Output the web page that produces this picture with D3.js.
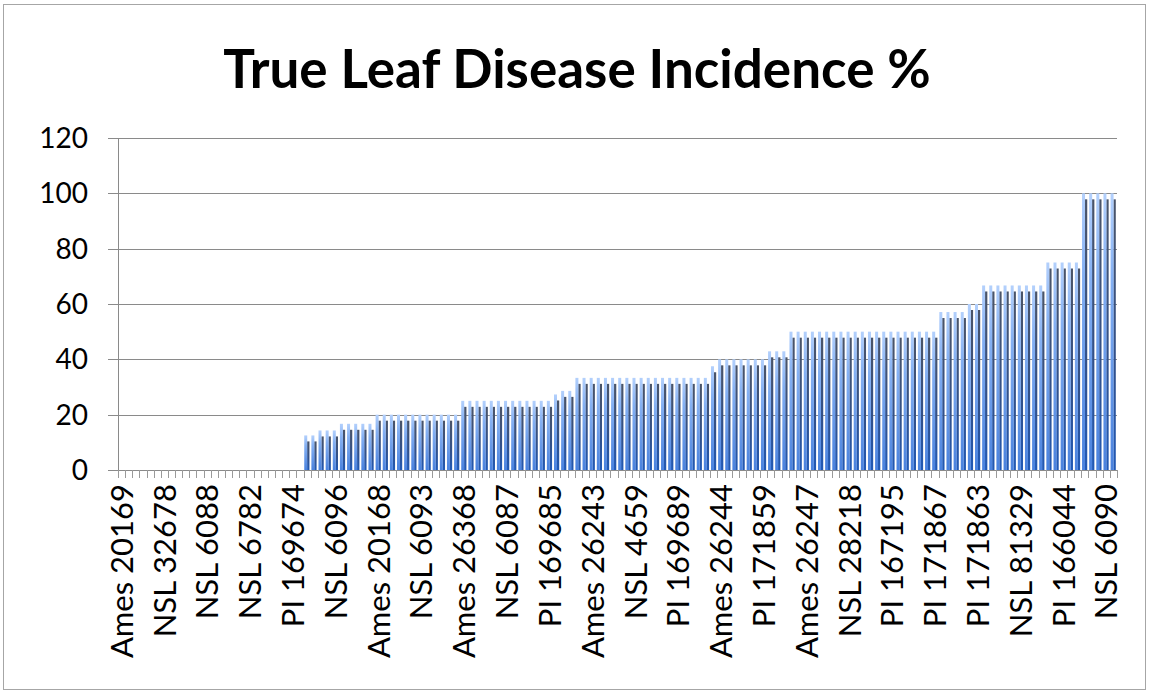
<!DOCTYPE html>
<html><head><meta charset="utf-8">
<script src="https://cdn.jsdelivr.net/npm/d3@7"></script>
<style>body{margin:0;background:#fff}svg{display:block}</style>
</head><body>
<svg id="c" width="1149" height="694"></svg>
<script>
const title = "True Leaf Disease Incidence %";
// visible category labels (every 6th accession)
const tickLabels = ["Ames 20169","NSL 32678","NSL 6088","NSL 6782","PI 169674","NSL 6096","Ames 20168","NSL 6093","Ames 26368","NSL 6087","PI 169685","Ames 26243","NSL 4659","PI 169689","Ames 26244","PI 171859","Ames 26247","NSL 28218","PI 167195","PI 171867","PI 171863","NSL 81329","PI 166044","NSL 6090"];
const labelEvery = 6;
// disease incidence % for each of the 140 accessions (sorted)
const values = [
 0,0,0,0,0,0,0,0,0,0,0,0,0,0,0,0,0,0,0,0,0,0,0,0,0,0,
 12.5,12.5,
 14.3,14.3,14.3,
 16.7,16.7,16.7,16.7,16.7,
 20,20,20,20,20,20,20,20,20,20,20,20,
 25,25,25,25,25,25,25,25,25,25,25,25,25,
 27.3,28.6,28.6,
 33.3,33.3,33.3,33.3,33.3,33.3,33.3,33.3,33.3,33.3,33.3,33.3,33.3,33.3,33.3,33.3,33.3,33.3,33.3,
 37.5,
 40,40,40,40,40,40,40,
 42.9,42.9,42.9,
 50,50,50,50,50,50,50,50,50,50,50,50,50,50,50,50,50,50,50,50,50,
 57.1,57.1,57.1,57.1,
 60,60,
 66.7,66.7,66.7,66.7,66.7,66.7,66.7,66.7,66.7,
 75,75,75,75,75,
 100,100,100,100,100
];
const yTicks = [0,20,40,60,80,100,120];

const svg = d3.select("#c");
const L = 118, R = 1117, T = 138, B = 470;
const font = "Lato, 'Open Sans', sans-serif";

svg.append("rect").attr("x",3.5).attr("y",4.5).attr("width",1142).attr("height",685)
  .attr("fill","#fff").attr("stroke","#a6a6a6").attr("stroke-width",1);

const defs = svg.append("defs");
const g1 = defs.append("linearGradient").attr("id","lite").attr("x1",0).attr("y1",0).attr("x2",0).attr("y2",1);
g1.append("stop").attr("offset","0%").attr("stop-color","#b3d0fc");
g1.append("stop").attr("offset","30%").attr("stop-color","#84b0f3");
g1.append("stop").attr("offset","100%").attr("stop-color","#4a82de");
const g2 = defs.append("linearGradient").attr("id","dark").attr("x1",0).attr("y1",0).attr("x2",0).attr("y2",1);
g2.append("stop").attr("offset","0%").attr("stop-color","#4a5468");
g2.append("stop").attr("offset","60%").attr("stop-color","#31508a");
g2.append("stop").attr("offset","100%").attr("stop-color","#2159b5");

const x = d3.scaleBand().domain(d3.range(values.length)).range([L,R]).paddingInner(0).paddingOuter(0);
const y = d3.scaleLinear().domain([0,120]).range([B,T]);

// gridlines
svg.append("g").selectAll("line").data(yTicks.filter(d=>d>0)).join("line")
  .attr("x1",L-10).attr("x2",R).attr("y1",d=>Math.round(y(d))+0.5).attr("y2",d=>Math.round(y(d))+0.5)
  .attr("stroke","#8a8a8a").attr("stroke-width",1);

// bars: shadow (dark) then bar (light)
const bw = x.bandwidth();
const bars = svg.append("g");
bars.selectAll("rect.sh").data(values.map((v,i)=>({v,i})).filter(d=>d.v>0)).join("rect")
  .attr("class","sh")
  .attr("x",d=>x(d.i)+bw*0.5).attr("width",bw*0.33)
  .attr("y",d=>y(d.v)+6).attr("height",d=>B-y(d.v)-6)
  .attr("fill","url(#dark)");
bars.selectAll("rect.bar").data(values.map((v,i)=>({v,i})).filter(d=>d.v>0)).join("rect")
  .attr("class","bar")
  .attr("x",d=>x(d.i)+bw*0.1).attr("width",bw*0.42)
  .attr("y",d=>y(d.v)).attr("height",d=>B-y(d.v))
  .attr("fill","url(#lite)");

// y axis
svg.append("line").attr("x1",L+0.5).attr("x2",L+0.5).attr("y1",T).attr("y2",B)
  .attr("stroke","#8a8a8a");
svg.append("line").attr("x1",L-10).attr("x2",L).attr("y1",B+0.5).attr("y2",B+0.5).attr("stroke","#8a8a8a");
svg.append("g").selectAll("text").data(yTicks).join("text")
  .attr("x",88).attr("y",d=>y(d)).attr("dy","0.36em").attr("text-anchor","end")
  .attr("font-family",font).attr("font-size",28).attr("fill","#000").text(d=>d);

// x axis
svg.append("line").attr("x1",L).attr("x2",R).attr("y1",B+0.5).attr("y2",B+0.5).attr("stroke","#8a8a8a");
svg.append("g").selectAll("line").data(d3.range(values.length+1)).join("line")
  .attr("x1",d=>Math.round(L+d*bw)+0.5).attr("x2",d=>Math.round(L+d*bw)+0.5)
  .attr("y1",B).attr("y2",B+8).attr("stroke","#9a9a9a");
svg.append("g").selectAll("text").data(tickLabels).join("text")
  .attr("transform",(d,k)=>`translate(${x(k*labelEvery)+bw/2},${B+14}) rotate(-90)`)
  .attr("text-anchor","end").attr("dy","0.36em")
  .attr("font-family",font).attr("font-size",31).attr("fill","#000").text(d=>d);

// title
svg.append("text").attr("x",577).attr("y",88).attr("text-anchor","middle")
  .attr("font-family",font).attr("font-weight","bold").attr("font-size",53).attr("fill","#000").text(title);
</script>
</body></html>
